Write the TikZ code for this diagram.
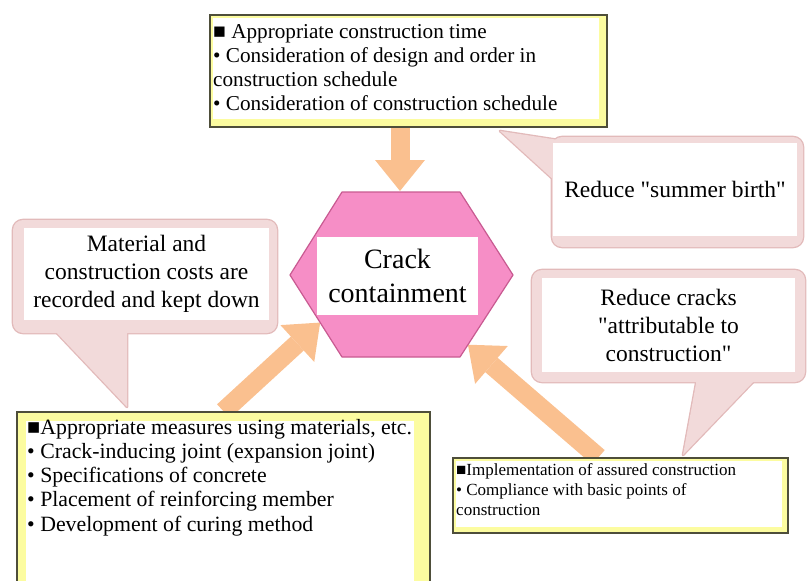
\documentclass[tikz,border=0pt]{standalone}
\usepackage{fontspec}
\setmainfont{Liberation Serif}
\usetikzlibrary{arrows.meta,backgrounds,calc}

\definecolor{hexpink}{RGB}{246,142,198}
\definecolor{hexedge}{RGB}{200,90,145}
\definecolor{bubblepink}{RGB}{242,218,218}
\definecolor{bubbleedge}{RGB}{226,186,186}
\definecolor{arroworange}{RGB}{250,192,143}
\definecolor{framegray}{RGB}{78,78,58}
\definecolor{paleyellow}{RGB}{252,252,160}

\tikzset{
  panel/.style 2 args={draw=framegray, line width=1.4pt, fill=paleyellow, inner sep=0pt,
    path picture={\fill[white] ([shift={(#1,-#1)}]path picture bounding box.north west)
      rectangle ([shift={(-#2,#2)}]path picture bounding box.south east);}},
  note/.style={font=\fontsize{21.2}{24.2}\selectfont, align=left, inner sep=0pt, anchor=north west},
  widenote/.style={note, font=\fontsize{21.8}{24.2}\selectfont},
  smallnote/.style={note, font=\fontsize{17}{20}\selectfont},
  bubbletext/.style={fill=white, inner sep=0pt, align=center, font=\fontsize{23.5}{28}\selectfont},
  bubbleline/.style={draw=bubbleedge, line width=2.6pt, line join=round},
  hexagon/.style={fill=hexpink, draw=hexedge, line width=1.2pt, line join=round},
  core/.style={fill=white, inner sep=0pt, align=center, minimum width=161pt, minimum height=78pt,
    font=\fontsize{28}{34}\selectfont},
  bigarrow/.style={draw=arroworange, line width=19pt,
    -{Triangle[width=50pt,length=31pt,line width=0pt]}}
}

\begin{document}
\begin{tikzpicture}[x=1pt,y=-1pt]
  \useasboundingbox (0,0) rectangle (807,581);

  % framed boxes with the measures
  \node[panel={3pt}{8pt}, minimum width=397pt, minimum height=112pt] (timing) at (408.5,71) {};
  \node[note] (timingtext) at (213,24) {■ Appropriate construction time\\
    • Consideration of design and order in\\construction schedule\\
    • Consideration of construction schedule};

  \node[panel={9pt}{16pt}, minimum width=413pt, minimum height=190pt] (materials) at (223.5,507) {};
  \node[widenote] (materialstext) at (27,419) {■Appropriate measures using materials, etc.\\
    • Crack-inducing joint (expansion joint)\\
    • Specifications of concrete\\
    • Placement of reinforcing member\\
    • Development of curing method};

  \node[panel={3pt}{6pt}, minimum width=335pt, minimum height=75pt] (assured) at (620.5,495.5) {};
  \node[smallnote] (assuredtext) at (456,463) {■Implementation of assured construction\\
    • Compliance with basic points of\\construction};

  % centre hexagon
  \coordinate (hexNW) at (342,192);
  \coordinate (hexNE) at (460,192);
  \coordinate (hexE) at (513,275);
  \coordinate (hexSE) at (460,357);
  \coordinate (hexSW) at (342,357);
  \coordinate (hexW) at (290,275);
  \draw[hexagon] (hexNW) -- (hexNE) -- (hexE) -- (hexSE) -- (hexSW) -- (hexW) -- cycle;
  \node[core] (crack) at (397.5,276) {Crack\\containment};

  \coordinate (intop) at (400,191);
  \coordinate (inleft) at ($(hexW)!0.58!(hexSW)$);
  \coordinate (inright) at ($(hexE)!0.85!(hexSE)$);

  % speech bubbles
  \node[bubbletext, minimum width=244pt, minimum height=93pt] (summer) at (675,189.5)
    {Reduce \textquotedbl summer birth\textquotedbl};
  \node[bubbletext, minimum width=245pt, minimum height=92pt] (costs) at (146.5,274)
    {Material and\\construction costs are\\recorded and kept down};
  \node[bubbletext, minimum width=253pt, minimum height=94pt] (cracks) at (668.5,325)
    {Reduce cracks\\\textquotedbl attributable to\\construction\textquotedbl};

  \coordinate (summer-nw) at (552,137);  \coordinate (summer-se) at (803,247);
  \coordinate (summer-tip) at (500,131); \coordinate (summer-l) at (565,141);
  \coordinate (summer-r) at (556,182);
  \coordinate (costs-nw) at (13,220);    \coordinate (costs-se) at (277,333);
  \coordinate (costs-tip) at (127,407);  \coordinate (costs-l) at (53,329);
  \coordinate (costs-r) at (127,329);
  \coordinate (cracks-nw) at (532,270);  \coordinate (cracks-se) at (805,382);
  \coordinate (cracks-tip) at (683,455); \coordinate (cracks-l) at (697,378);
  \coordinate (cracks-r) at (757,378);

  \begin{scope}[on background layer]
    \foreach \b in {summer,costs,cracks} {
      \draw[bubbleline, rounded corners=10pt] (\b-nw) rectangle (\b-se);
      \draw[bubbleline] (\b-tip) -- (\b-l) -- (\b-r) -- cycle;
    }
    \foreach \b in {summer,costs,cracks} {
      \fill[bubblepink, rounded corners=10pt] (\b-nw) rectangle (\b-se);
      \fill[bubblepink] (\b-tip) -- (\b-l) -- (\b-r) -- cycle;
    }

    % arrows into the hexagon
    \draw[bigarrow] (timing.south -| intop) -- (intop);
    \draw[bigarrow] (materials.north) -- (inleft);
    \draw[bigarrow] ([xshift=-22pt]assured.north) -- (inright);
  \end{scope}
\end{tikzpicture}
\end{document}
